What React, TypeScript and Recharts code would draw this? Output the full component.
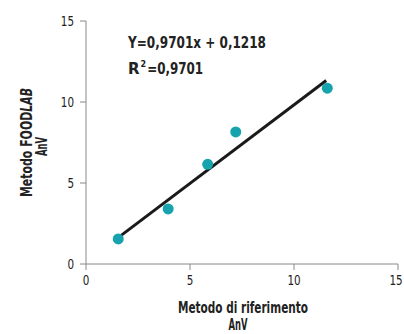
import React from "react";
import {
  ScatterChart,
  Scatter,
  XAxis,
  YAxis,
  Label,
  Customized,
} from "recharts";

const FONT = "'DejaVu Sans', sans-serif";

// Metodo di riferimento (x) vs Metodo FOODLAB (y), AnV
const refValues = [1.55, 3.95, 5.85, 7.2, 11.6];
const foodlabValues = [1.55, 3.4, 6.15, 8.15, 10.85];
// regression line Y=0,9701x + 0,1218 drawn between the ends
const fitX = [1.5, 11.55];
const fitY = [1.58, 11.33];
const ticks = [0, 5, 10, 15];

const points = refValues.map((x, i) => ({ x, y: foodlabValues[i] }));
const fitLine = fitX.map((x, i) => ({ x, y: fitY[i] }));

// the original uses a narrow font, squeeze DejaVu to the same widths
const narrow = (s: string, per: number) => ({
  textLength: s.length * per,
  lengthAdjust: "spacingAndGlyphs" as const,
});

const bold = {
  fontFamily: FONT,
  fontWeight: "bold",
  fontSize: 15,
  fill: "#222",
};

const YTitle = ({ viewBox }: any) => {
  const cy = viewBox.y + viewBox.height / 2;
  return (
    <g {...bold}>
      <text
        x={32}
        y={cy}
        transform={`rotate(-90, 32, ${cy})`}
        textAnchor="middle"
        textLength={109}
        lengthAdjust="spacingAndGlyphs"
      >
        Metodo FOOD<tspan fontStyle="italic">LAB</tspan>
      </text>
      <text
        x={47}
        y={cy + 4}
        transform={`rotate(-90, 47, ${cy + 4})`}
        textAnchor="middle"
        textLength={19}
        lengthAdjust="spacingAndGlyphs"
      >
        AnV
      </text>
    </g>
  );
};

const XTitle = ({ viewBox }: any) => {
  const cx = viewBox.x + viewBox.width / 2;
  return (
    <g {...bold}>
      <text
        x={cx + 1}
        y={313}
        textAnchor="middle"
        textLength={130}
        lengthAdjust="spacingAndGlyphs"
      >
        Metodo di riferimento
      </text>
      <text
        x={cx - 4}
        y={330}
        textAnchor="middle"
        textLength={19}
        lengthAdjust="spacingAndGlyphs"
      >
        AnV
      </text>
    </g>
  );
};

const Equation = () => (
  <g {...bold}>
    <text x={128} y={48} textLength={138} lengthAdjust="spacingAndGlyphs">
      Y=0,9701x + 0,1218
    </text>
    <text x={128} y={74}>
      R<tspan fontSize={8} dy={-7} dx={1}>2</tspan>
      <tspan dy={7} dx={1} textLength={56} lengthAdjust="spacingAndGlyphs">
        =0,9701
      </tspan>
    </text>
  </g>
);

const tickFont = { fontFamily: FONT, fontSize: 14, fill: "#222" };

const YTick = ({ x, y, payload }: any) => {
  const s = String(payload.value);
  return (
    <text x={x} y={y + 5} textAnchor="end" {...tickFont} {...narrow(s, 6.6)}>
      {s}
    </text>
  );
};

const XTick = ({ x, y, payload }: any) => {
  const s = String(payload.value);
  return (
    <text x={x} y={y + 13} textAnchor="middle" {...tickFont} {...narrow(s, 6.6)}>
      {s}
    </text>
  );
};

export default function App() {
  return (
    <div style={{ position: "absolute", left: 0, top: 0, background: "#fff" }}>
      <ScatterChart
        width={404}
        height={334}
        margin={{ top: 21, right: 6, left: 0, bottom: 0 }}
      >
        <XAxis
          type="number"
          dataKey="x"
          domain={[0, 15]}
          ticks={ticks}
          height={70}
          stroke="#888"
          tickSize={6}
          tick={<XTick />}
          allowDataOverflow
        >
          <Label content={<XTitle />} />
        </XAxis>
        <YAxis
          type="number"
          dataKey="y"
          domain={[0, 15]}
          ticks={ticks}
          width={86}
          stroke="#888"
          tickSize={6}
          tickMargin={6}
          tick={<YTick />}
          allowDataOverflow
        >
          <Label content={<YTitle />} />
        </YAxis>
        <Scatter
          data={fitLine}
          line={{ stroke: "#1a1a1a", strokeWidth: 3 }}
          shape={() => null}
          isAnimationActive={false}
        />
        <Scatter
          data={points}
          fill="#16a3ad"
          shape={(p: any) => (
            <circle cx={p.cx} cy={p.cy} r={5.5} fill="#16a3ad" />
          )}
          isAnimationActive={false}
        />
        <Customized component={Equation} />
      </ScatterChart>
    </div>
  );
}
